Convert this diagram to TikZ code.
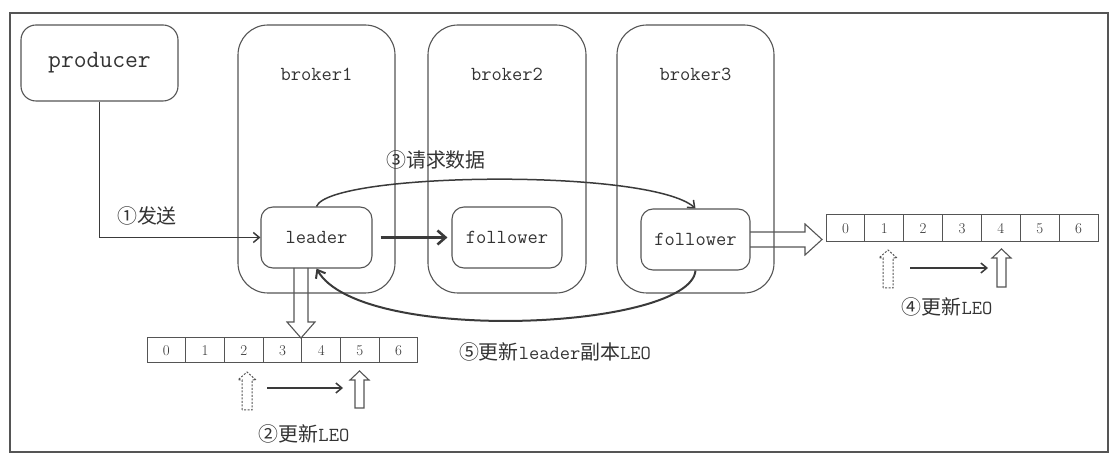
\documentclass[tikz,border=0pt]{standalone}
\usepackage{fontspec}
\newfontfamily\cjk{Noto Sans CJK SC}
\usetikzlibrary{arrows.meta}
\definecolor{linec}{HTML}{3A3A3A}
\definecolor{boxc}{HTML}{555555}
\definecolor{txtc}{HTML}{333333}
\begin{document}
\begin{tikzpicture}[x=1bp,y=-1bp,
  box/.style={draw=boxc, line width=1.1bp, rounded corners=#1, inner sep=0pt},
  lab/.style={text=txtc, font=\ttfamily\fontsize{20}{20}\selectfont, inner sep=0pt},
  cjklab/.style={text=txtc, font=\fontsize{20}{20}\selectfont, inner sep=0pt},
  cell/.style={draw=boxc, line width=1bp, inner sep=0pt, text=txtc, font=\fontsize{15}{15}\selectfont},
  conn/.style={draw=linec, line width=1.5bp, -{Straight Barb[length=6bp,width=10bp,line width=1.5bp]}},
  hollow/.style={draw=boxc, line width=1.1bp, line join=miter},
  dhollow/.style={draw=boxc, line width=1bp, dash pattern=on 2bp off 1.5bp}]
\useasboundingbox (0,0) rectangle (1120,467);
\draw[draw=boxc, line width=2bp] (10,13) rectangle (1108,452);

% producer and brokers
\node[box=15bp, minimum width=157bp, minimum height=76bp, text=txtc,
  font=\ttfamily\fontsize{25}{25}\selectfont] (producer) at (99.5,63) {producer};
\node[box=30bp, minimum width=157bp, minimum height=268bp] (br1) at (316.5,159) {};
\node[box=30bp, minimum width=158bp, minimum height=268bp] (br2) at (507,159) {};
\node[box=30bp, minimum width=157bp, minimum height=268bp] (br3) at (695.5,159) {};
\node[lab] (br1t) at (316.5,74) {broker1};
\node[lab] (br2t) at (507,74) {broker2};
\node[lab] (br3t) at (695.5,74) {broker3};

% replicas
\node[box=12bp, minimum width=111bp, minimum height=61bp, lab, inner sep=0pt] (leader) at (316.5,237.5) {leader};
\node[box=12bp, minimum width=110bp, minimum height=61bp, lab, inner sep=0pt] (fol2) at (507,237.5) {follower};
\node[box=12bp, minimum width=109bp, minimum height=61bp, lab, inner sep=0pt] (fol3) at (695.5,239.5) {follower};

% arrays
\foreach \i in {0,...,6}{
  \node[cell, minimum width=38.71bp, minimum height=25bp] (a\i) at ({147+38.71*(\i+0.5)},350.5) {\i};
  \node[cell, minimum width=38.86bp, minimum height=27bp] (b\i) at ({826+38.86*(\i+0.5)},228.5) {\i};
}

% connectors
\draw[conn] (producer.south) |- (leader.west);
\node[cjklab] (l1) at (147,216) {{\cjk ①发送}};
\draw[conn, line width=2.6bp, -{Straight Barb[length=8bp,width=14bp,line width=2.6bp]},
  shorten <=8bp, shorten >=4bp] (leader.east) -- (fol2.west);

\draw[conn] (leader.north) .. controls (330,172) and (650,168) .. (fol3.north);
\node[cjklab] (l3) at (436,160) {{\cjk ③请求数据}};

\draw[conn, line width=2bp, -{Straight Barb[length=7bp,width=11bp,line width=2bp]}]
  (fol3.south) .. controls (690,330) and (360,345) .. (leader.south);
\node[cjklab] (l5) at (555,352) {{\cjk ⑤更新}{\ttfamily leader}{\cjk 副本}{\ttfamily LEO}};

% hollow arrow leader -> array
\draw[hollow] (294,268) -- (294,322) -- (287,322) -- (301,338) -- (315,322) -- (308,322) -- (308,268);
% hollow arrow follower3 -> right array
\draw[hollow] (750,232) -- (805,232) -- (805,224) -- (822,239.5) -- (805,255) -- (805,247) -- (750,247);

% LEO moves, left array
\draw[dhollow] (242,410) -- (242,380) -- (238,380) -- (247,372) -- (256,380) -- (252,380) -- (252,410) -- cycle;
\draw[hollow] (355,408) -- (355,380) -- (350,380) -- (359.5,371) -- (369,380) -- (364,380) -- (364,408) -- cycle;
\draw[conn, line width=2bp] (267,388) -- (343,388);
\node[cjklab] (l2) at (304,434) {{\cjk ②更新}{\ttfamily LEO}};

% LEO moves, right array
\draw[dhollow] (883,288) -- (883,258) -- (879,258) -- (888,250) -- (897,258) -- (893,258) -- (893,288) -- cycle;
\draw[hollow] (997,287) -- (997,258) -- (992,258) -- (1001.5,249) -- (1011,258) -- (1006,258) -- (1006,287) -- cycle;
\draw[conn, line width=2bp] (910,268) -- (988,268);
\node[cjklab] (l4) at (947,307) {{\cjk ④更新}{\ttfamily LEO}};
\end{tikzpicture}
\end{document}
